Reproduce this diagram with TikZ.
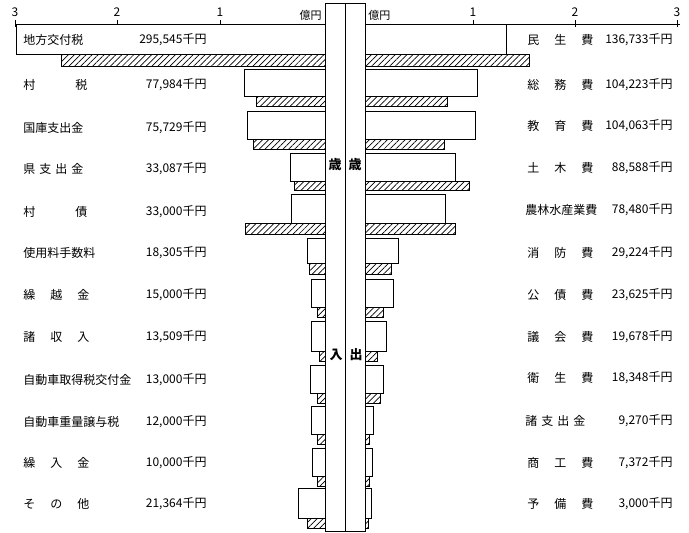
\documentclass[tikz,border=0pt]{standalone}
\usepackage{fontspec}
\newfontfamily\jp{Noto Sans CJK JP}
\usetikzlibrary{patterns.meta}
\newcommand\spreadthree[1]{\makebox[66pt][s]{#1}}
\newcommand\spreadfour[1]{\makebox[60pt][s]{#1}}
\begin{document}
\begin{tikzpicture}[x=1pt,y=-1pt,line width=0.9pt,
  boxbar/.style={draw,fill=white},
  hatchbar/.style={draw,pattern={Lines[angle=45,distance=4.2pt,line width=0.7pt]}},
  colbox/.style={draw,fill=white},
  lbl/.style={anchor=west,inner sep=0pt,font=\jp\fontsize{12}{12}\selectfont},
  num/.style={anchor=east,inner sep=0pt,font=\jp\fontsize{12}{12}\selectfont},
  ticklbl/.style={inner sep=0pt,font=\jp\fontsize{12}{12}\selectfont},
  unitlbl/.style={inner sep=0pt,font=\jp\fontsize{11}{11}\selectfont},
  coltxt/.style={inner sep=0pt,font=\jp\bfseries\fontsize{13}{13}\selectfont}]
\useasboundingbox (0,0) rectangle (689,533);
% central column
\draw[colbox] (325,3) rectangle (345,531);
\draw[colbox] (345,3) rectangle (365,531);
% axes
\draw (15,24) -- (325,24);
\draw (365,24) -- (680,24);
\foreach \x/\t [count=\i] in {15/3,117/2,220/1}{
  \draw (\x,20) -- (\x,27);
  \node[ticklbl] (lt\i) at (\x,12) {\t};
}
\foreach \x/\t [count=\i] in {473/1,575/2,677/3}{
  \draw (\x,20) -- (\x,27);
  \node[ticklbl] (rt\i) at (\x,12) {\t};
}
\node[unitlbl,anchor=east] (lunit) at (322,15) {億円};
\node[unitlbl,anchor=west] (runit) at (368,15) {億円};
% bars
\foreach \t/\m/\b/\lb/\lh/\rb/\rh in {
  24/54/66/16/61/506/529,
  69/96/106/244/256/477/447,
  111/139/149/247/253/475/444,
  153/181/190/290/294/455/469,
  194/223/234/291/245/445/455,
  238/263/274/307/309/398/391,
  279/307/317/311/317/393/383,
  321/351/361/311/319/386/377,
  365/393/403/310/317/383/380,
  406/434/444/311/317/373/369,
  448/476/486/312/317/372/369,
  488/518/528/298/307/371/368}{
  \draw[boxbar] (\lb,\t) rectangle (325,\m);
  \draw[hatchbar] (\lh,\m) rectangle (325,\b);
  \draw[boxbar] (365,\t) rectangle (\rb,\m);
  \draw[hatchbar] (365,\m) rectangle (\rh,\b);
}
% column texts
\node[coltxt] (sai1) at (335,165) {歳};
\node[coltxt] (sai2) at (355,165) {歳};
\node[coltxt] (nyu) at (336,355) {入};
\node[coltxt] (shu) at (356,355) {出};
% left labels
\node[lbl] (l1) at (23,40) {地方交付税};
\node[num] (n1) at (207,40) {295,545千円};
\node[lbl] (l2) at (23,85) {\makebox[64pt][s]{村\hfill 税}};
\node[num] (n2) at (207,85) {77,984千円};
\node[lbl] (l3) at (23,128) {国庫支出金};
\node[num] (n3) at (207,128) {75,729千円};
\node[lbl] (l4) at (23,169) {\spreadfour{県\hfill 支\hfill 出\hfill 金}};
\node[num] (n4) at (207,169) {33,087千円};
\node[lbl] (l5) at (23,212) {\makebox[64pt][s]{村\hfill 債}};
\node[num] (n5) at (207,212) {33,000千円};
\node[lbl] (l6) at (23,253) {使用料手数料};
\node[num] (n6) at (207,253) {18,305千円};
\node[lbl] (l7) at (23,295) {\spreadthree{繰\hfill 越\hfill 金}};
\node[num] (n7) at (207,295) {15,000千円};
\node[lbl] (l8) at (23,337) {\spreadthree{諸\hfill 収\hfill 入}};
\node[num] (n8) at (207,337) {13,509千円};
\node[lbl] (l9) at (23,380) {自動車取得税交付金};
\node[num] (n9) at (207,380) {13,000千円};
\node[lbl] (l10) at (23,422) {自動車重量譲与税};
\node[num] (n10) at (207,422) {12,000千円};
\node[lbl] (l11) at (23,463) {\spreadthree{繰\hfill 入\hfill 金}};
\node[num] (n11) at (207,463) {10,000千円};
\node[lbl] (l12) at (23,504) {\spreadthree{そ\hfill の\hfill 他}};
\node[num] (n12) at (207,504) {21,364千円};
% right labels
\node[lbl] (r1) at (527,40) {\spreadthree{民\hfill 生\hfill 費}};
\node[num] (m1) at (673,40) {136,733千円};
\node[lbl] (r2) at (527,85) {\spreadthree{総\hfill 務\hfill 費}};
\node[num] (m2) at (673,85) {104,223千円};
\node[lbl] (r3) at (527,126) {\spreadthree{教\hfill 育\hfill 費}};
\node[num] (m3) at (673,126) {104,063千円};
\node[lbl] (r4) at (527,168) {\spreadthree{土\hfill 木\hfill 費}};
\node[num] (m4) at (673,168) {88,588千円};
\node[lbl] (r5) at (525,210) {農林水産業費};
\node[num] (m5) at (673,210) {78,480千円};
\node[lbl] (r6) at (527,253) {\spreadthree{消\hfill 防\hfill 費}};
\node[num] (m6) at (673,253) {29,224千円};
\node[lbl] (r7) at (527,295) {\spreadthree{公\hfill 債\hfill 費}};
\node[num] (m7) at (673,295) {23,625千円};
\node[lbl] (r8) at (527,337) {\spreadthree{議\hfill 会\hfill 費}};
\node[num] (m8) at (673,337) {19,678千円};
\node[lbl] (r9) at (527,378) {\spreadthree{衛\hfill 生\hfill 費}};
\node[num] (m9) at (673,378) {18,348千円};
\node[lbl] (r10) at (525,421) {\spreadfour{諸\hfill 支\hfill 出\hfill 金}};
\node[num] (m10) at (673,421) {9,270千円};
\node[lbl] (r11) at (527,463) {\spreadthree{商\hfill 工\hfill 費}};
\node[num] (m11) at (673,463) {7,372千円};
\node[lbl] (r12) at (527,504) {\spreadthree{予\hfill 備\hfill 費}};
\node[num] (m12) at (673,504) {3,000千円};
\end{tikzpicture}
\end{document}
